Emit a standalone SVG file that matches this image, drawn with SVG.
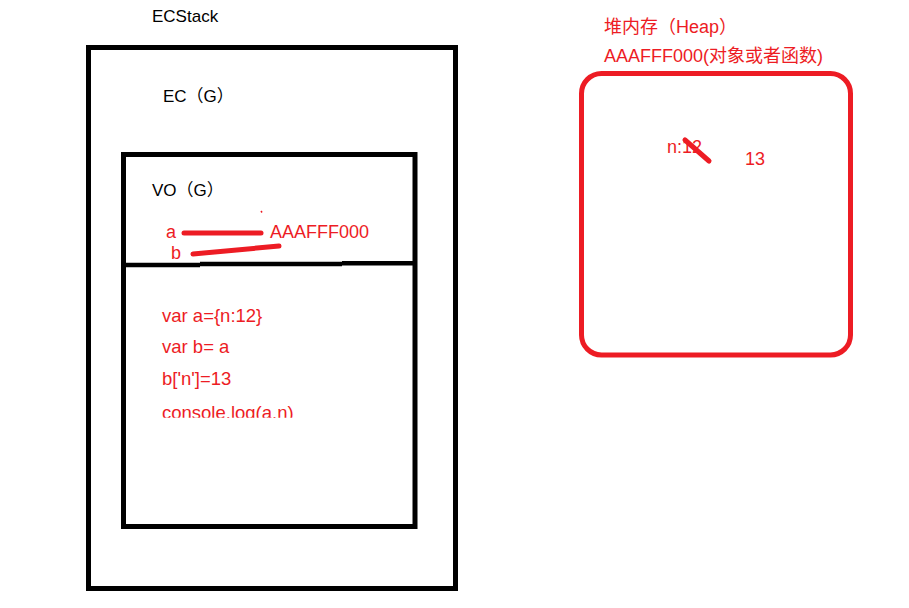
<svg xmlns="http://www.w3.org/2000/svg" width="909" height="608" viewBox="0 0 909 608">
  <style>
    .box { fill: none; stroke: #000; stroke-width: 5; }
    .heapbox { fill: none; stroke: #ED1C24; stroke-width: 5; }
    .blk { font-family: "Liberation Sans", "Noto Sans CJK SC", sans-serif; font-size: 17px; fill: #000; }
    .red { font-family: "Liberation Sans", "Noto Sans CJK SC", sans-serif; font-size: 18px; fill: #ED1C24; }
    .code { font-size: 18.5px; }
    .link { stroke: #ED1C24; stroke-width: 5; stroke-linecap: round; fill: none; }
  </style>
  <defs>
    <clipPath id="codeclip">
      <rect x="120" y="290" width="300" height="127.7"/>
    </clipPath>
  </defs>
  <rect width="909" height="608" fill="#fff"/>

  <g id="ecstack">
    <text class="blk" x="152" y="22" font-size="17.5">ECStack</text>
    <rect class="box" x="88.5" y="47.5" width="367" height="541"/>
  </g>

  <g id="ec-global">
    <text class="blk" x="163" y="102">EC（G）</text>
  </g>

  <g id="vo-global">
    <rect class="box" x="123.5" y="154.5" width="291.5" height="372"/>
    <path d="M126 265 H200 M200 264 H342 M342 263.3 H413" stroke="#000" stroke-width="4.6" fill="none"/>
    <text class="blk" x="152" y="196">VO（G）</text>
    <text class="red" x="166" y="238">a</text>
    <text class="red" x="171" y="259">b</text>
    <text class="red" x="270" y="238">AAAFFF000</text>
    <line x1="261" y1="211" x2="262" y2="212.5" stroke="#ED1C24" stroke-width="1.5"/>
  </g>

  <g id="code" clip-path="url(#codeclip)">
    <text class="red code" x="162" y="322">var a={n:12}</text>
    <text class="red code" x="162" y="353">var b= a</text>
    <text class="red code" x="162" y="385">b['n']=13</text>
    <text class="red code" x="162" y="418.7">console.log(a.n)</text>
  </g>

  <g id="heap">
    <text class="red" x="604" y="33">堆内存（Heap）</text>
    <text class="red" x="604" y="62">AAAFFF000(对象或者函数)</text>
    <rect class="heapbox" x="581.5" y="73.5" width="269" height="281.5" rx="20" ry="20"/>
    <text class="red" x="667" y="153">n:12</text>
    <line class="link" x1="685" y1="140" x2="709" y2="161"/>
    <text class="red" x="745" y="165">13</text>
  </g>

  <g id="connectors">
    <line class="link" x1="184" y1="233" x2="261" y2="233"/>
    <line class="link" x1="193" y1="254" x2="279" y2="246" stroke-width="4.5"/>
  </g>
</svg>
